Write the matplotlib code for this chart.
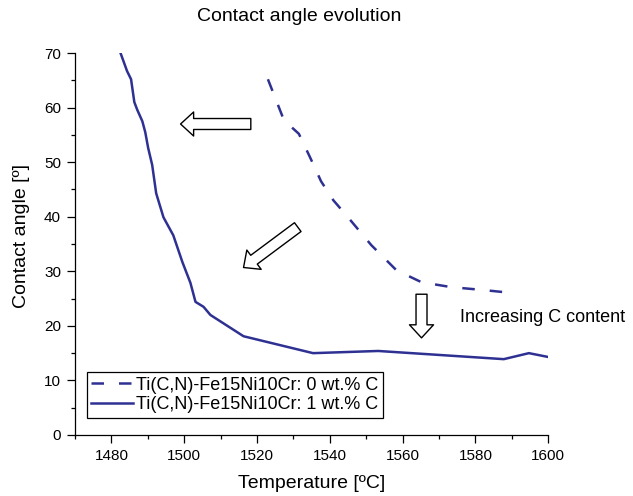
import matplotlib
matplotlib.use('Agg')
import matplotlib.pyplot as plt
from matplotlib.ticker import MultipleLocator

plt.rcParams['font.family'] = ['Liberation Sans', 'DejaVu Sans']

# Contact angle data
temp_0c = [1523.0, 1527.4, 1531.5, 1534.5, 1537.6, 1541.0, 1544.5, 1551.4,
           1558.3, 1565.2, 1573.4, 1581.7, 1590.6]
angle_0c = [65.2, 57.7, 55.2, 51.0, 46.5, 43.0, 40.3, 34.8,
            30.2, 28.0, 27.1, 26.6, 26.0]

temp_1c = [1482.4, 1484.3, 1485.4, 1486.3, 1487.1, 1488.5, 1489.3, 1490.1,
           1491.2, 1492.3, 1494.3, 1497.0, 1499.5, 1501.7, 1503.1, 1505.3,
           1507.2, 1516.3, 1535.4, 1553.3, 1587.8, 1594.7, 1600.0]
angle_1c = [70.2, 66.7, 65.2, 61.0, 59.6, 57.5, 55.5, 52.6,
            49.5, 44.3, 39.9, 36.6, 31.7, 27.9, 24.4, 23.5,
            22.0, 18.1, 15.0, 15.4, 13.9, 15.0, 14.3]

labels = ['Ti(C,N)-Fe15Ni10Cr: 0 wt.% C', 'Ti(C,N)-Fe15Ni10Cr: 1 wt.% C']
color = '#2E3192'

fig = plt.figure(figsize=(6.33, 4.96), dpi=100)
ax = fig.add_axes([0.1185, 0.123, 0.7475, 0.77])

ax.plot(temp_0c, angle_0c, color=color, lw=1.8, dashes=(5, 6), label=labels[0])
ax.plot(temp_1c, angle_1c, color=color, lw=1.8, label=labels[1])

ax.set_xlim(1470, 1600)
ax.set_ylim(0, 70)
ax.xaxis.set_major_locator(MultipleLocator(20))
ax.xaxis.set_minor_locator(MultipleLocator(10))
ax.yaxis.set_major_locator(MultipleLocator(10))
ax.yaxis.set_minor_locator(MultipleLocator(5))

for s in ['top', 'right']:
    ax.spines[s].set_visible(False)
for s in ['left', 'bottom']:
    ax.spines[s].set_linewidth(0.9)
ax.tick_params(which='major', direction='out', length=6, width=0.9, labelsize=11, pad=4)
ax.tick_params(which='minor', direction='out', length=3, width=0.9)

ax.set_xlabel('Temperature [ºC]', fontsize=14, labelpad=9)
ax.set_ylabel('Contact angle [º]', fontsize=14)
ax.yaxis.set_label_coords(-0.095, 0.52)
fig.text(0.472, 0.966, 'Contact angle evolution', fontsize=14, ha='center', va='center')

# hollow arrows
astyle = 'simple,head_length=9.4,head_width=17.3,tail_width=7.9'
aprops = dict(arrowstyle=astyle, fc='white', ec='black', lw=1,
              shrinkA=0, shrinkB=0, mutation_scale=1)
ax.annotate('', xy=(1499.0, 57.0), xytext=(1518.3, 57.0), arrowprops=aprops)
ax.annotate('', xy=(1516.3, 30.7), xytext=(1531.2, 38.1), arrowprops=aprops)
ax.annotate('', xy=(1565.2, 17.8), xytext=(1565.2, 25.8), arrowprops=aprops)
ax.text(1575.7, 21.6, 'Increasing C content', fontsize=13, ha='left', va='center')

leg = ax.legend(loc='lower left', bbox_to_anchor=(0.025, 0.045), fontsize=13,
                frameon=True, fancybox=False, edgecolor='black', framealpha=1,
                handlelength=2.3, handletextpad=0.2, borderpad=0.25,
                labelspacing=0.15, borderaxespad=0)
leg.get_frame().set_linewidth(0.9)

fig.savefig('out.png', dpi=100)
